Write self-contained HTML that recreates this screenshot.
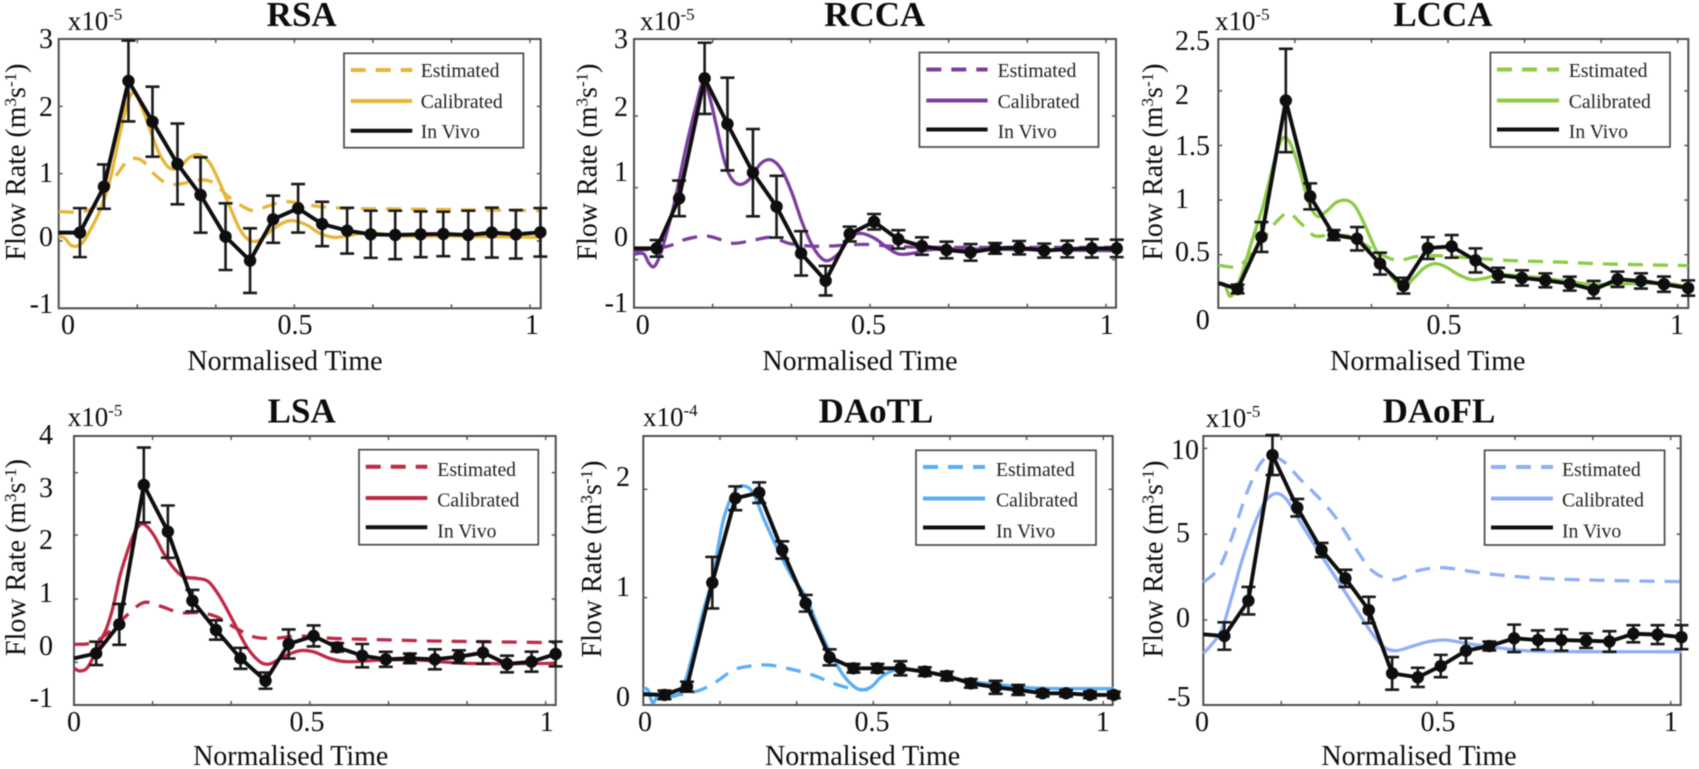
<!DOCTYPE html>
<html lang="en">
<head>
<meta charset="utf-8">
<title>Flow rate comparison</title>
<style>
html,body{margin:0;padding:0;background:#fff;}
svg{display:block;filter:blur(0.55px);}
text{font-family:"Liberation Serif",serif;fill:#0c0c0c;}
.title{font-size:35px;font-weight:bold;text-anchor:middle;}
.mult{font-size:27px;}
.tick{font-size:28px;text-anchor:middle;}
.ytick{font-size:28px;text-anchor:end;}
.ytitle{font-size:28px;text-anchor:middle;}
.xtitle{font-size:28px;text-anchor:middle;}
.leg{font-size:19.7px;fill:#222;}
.legbox{fill:#fff;stroke:#4a4a4a;stroke-width:1.7;}
.legline{stroke-width:4;fill:none;}
.dash{stroke-dasharray:15 10;}
.vivo{stroke:#111;}
</style>
</head>
<body>
<svg id="figure" xmlns="http://www.w3.org/2000/svg" width="1699" height="769" viewBox="0 0 1699 769">

<g id="panel-rsa">
  <text class="title" x="301.7" y="26">RSA</text>
  <text class="mult" x="67.7" y="30">x10<tspan font-size="17" dy="-10">-5</tspan></text>
  <text class="ytitle" transform="translate(25,162) rotate(-90)">Flow Rate (m<tspan font-size="17" dy="-9">3</tspan><tspan dy="9">s</tspan><tspan font-size="17" dy="-9">-1</tspan><tspan dy="9">)</tspan></text>
  <text class="xtitle" x="285" y="370">Normalised Time</text>
  <g><text class="tick" x="68" y="334">0</text><text class="tick" x="295" y="334">0.5</text><text class="tick" x="532" y="334">1</text></g>
  <g><text class="ytick" x="53" y="48">3</text><text class="ytick" x="53" y="116">2</text><text class="ytick" x="53" y="182">1</text><text class="ytick" x="53" y="246">0</text><text class="ytick" x="53" y="313">-1</text></g>
  <g id="marks-rsa"></g>
  <g>
    <rect class="legbox" x="344" y="53.3" width="179.4" height="94.4"/>
    <line class="legline dash" x1="350.7" x2="412.3" y1="70" y2="70" stroke="#E8B53A"/>
    <line class="legline" x1="350.7" x2="412.3" y1="101" y2="101" stroke="#E8B53A"/>
    <line class="legline vivo" x1="350.7" x2="412.3" y1="130.7" y2="130.7"/>
    <text class="leg" x="420.7" y="77">Estimated</text>
    <text class="leg" x="420.7" y="108">Calibrated</text>
    <text class="leg" x="420.7" y="138">In Vivo</text>
  </g>
</g>

<g id="panel-rcca">
  <text class="title" x="874.7" y="26">RCCA</text>
  <text class="mult" x="640" y="30">x10<tspan font-size="17" dy="-10">-5</tspan></text>
  <text class="ytitle" transform="translate(596.4,162) rotate(-90)">Flow Rate (m<tspan font-size="17" dy="-9">3</tspan><tspan dy="9">s</tspan><tspan font-size="17" dy="-9">-1</tspan><tspan dy="9">)</tspan></text>
  <text class="xtitle" x="860" y="370">Normalised Time</text>
  <g><text class="tick" x="642.7" y="334">0</text><text class="tick" x="868.5" y="334">0.5</text><text class="tick" x="1106.7" y="334">1</text></g>
  <g><text class="ytick" x="628" y="48">3</text><text class="ytick" x="628" y="116">2</text><text class="ytick" x="628" y="181">1</text><text class="ytick" x="628" y="246">0</text><text class="ytick" x="628" y="312">-1</text></g>
  <g id="marks-rcca"></g>
  <g>
    <rect class="legbox" x="919.4" y="52.5" width="179.1" height="94.5"/>
    <line class="legline dash" x1="926.3" x2="987.6" y1="69.5" y2="69.5" stroke="#7B3F9E"/>
    <line class="legline" x1="926.3" x2="987.6" y1="100.5" y2="100.5" stroke="#7B3F9E"/>
    <line class="legline vivo" x1="926.3" x2="987.6" y1="129.5" y2="129.5"/>
    <text class="leg" x="997.6" y="77">Estimated</text>
    <text class="leg" x="997.6" y="108">Calibrated</text>
    <text class="leg" x="997.6" y="138">In Vivo</text>
  </g>
</g>

<g id="panel-lcca">
  <text class="title" x="1443" y="26">LCCA</text>
  <text class="mult" x="1215" y="30">x10<tspan font-size="17" dy="-10">-5</tspan></text>
  <text class="ytitle" transform="translate(1162,162) rotate(-90)">Flow Rate (m<tspan font-size="17" dy="-9">3</tspan><tspan dy="9">s</tspan><tspan font-size="17" dy="-9">-1</tspan><tspan dy="9">)</tspan></text>
  <text class="xtitle" x="1427.8" y="370">Normalised Time</text>
  <g><text class="tick" x="1202.7" y="329">0</text><text class="tick" x="1444" y="334">0.5</text><text class="tick" x="1677" y="334">1</text></g>
  <g><text x="1175" y="50" font-size="28">2.5</text><text x="1175" y="104" font-size="28">2</text><text x="1175" y="155" font-size="28">1.5</text><text x="1175" y="208" font-size="28">1</text><text x="1175" y="261" font-size="28">0.5</text></g>
  <g id="marks-lcca"></g>
  <g>
    <rect class="legbox" x="1490.4" y="52.5" width="179.6" height="94.5"/>
    <line class="legline dash" x1="1497" x2="1559" y1="69.5" y2="69.5" stroke="#8CCB47"/>
    <line class="legline" x1="1497" x2="1559" y1="100.5" y2="100.5" stroke="#8CCB47"/>
    <line class="legline vivo" x1="1497" x2="1559" y1="129.5" y2="129.5"/>
    <text class="leg" x="1568.8" y="77">Estimated</text>
    <text class="leg" x="1568.8" y="108">Calibrated</text>
    <text class="leg" x="1568.8" y="138">In Vivo</text>
  </g>
</g>

<g id="panel-lsa">
  <text class="title" x="301.7" y="422.7">LSA</text>
  <text class="mult" x="67.7" y="426">x10<tspan font-size="17" dy="-10">-5</tspan></text>
  <text class="ytitle" transform="translate(25,557.5) rotate(-90)">Flow Rate (m<tspan font-size="17" dy="-9">3</tspan><tspan dy="9">s</tspan><tspan font-size="17" dy="-9">-1</tspan><tspan dy="9">)</tspan></text>
  <text class="xtitle" x="290.7" y="765">Normalised Time</text>
  <g><text class="tick" x="74" y="731">0</text><text class="tick" x="307" y="731">0.5</text><text class="tick" x="546.7" y="731">1</text></g>
  <g><text class="ytick" x="53" y="444">4</text><text class="ytick" x="53" y="497">3</text><text class="ytick" x="53" y="549">2</text><text class="ytick" x="53" y="602">1</text><text class="ytick" x="53" y="655">0</text><text class="ytick" x="53" y="707">-1</text></g>
  <g id="marks-lsa"></g>
  <g>
    <rect class="legbox" x="359" y="449.7" width="179.3" height="95"/>
    <line class="legline dash" x1="365.7" x2="427.3" y1="466.7" y2="466.7" stroke="#BE2A45"/>
    <line class="legline" x1="365.7" x2="427.3" y1="498" y2="498" stroke="#BE2A45"/>
    <line class="legline vivo" x1="365.7" x2="427.3" y1="527.3" y2="527.3"/>
    <text class="leg" x="437.3" y="476">Estimated</text>
    <text class="leg" x="437.3" y="506.7">Calibrated</text>
    <text class="leg" x="437.3" y="537.3">In Vivo</text>
  </g>
</g>

<g id="panel-daotl">
  <text class="title" x="876" y="422.7">DAoTL</text>
  <text class="mult" x="643" y="426">x10<tspan font-size="17" dy="-10">-4</tspan></text>
  <text class="ytitle" transform="translate(601,559) rotate(-90)">Flow Rate (m<tspan font-size="17" dy="-9">3</tspan><tspan dy="9">s</tspan><tspan font-size="17" dy="-9">-1</tspan><tspan dy="9">)</tspan></text>
  <text class="xtitle" x="862.6" y="765">Normalised Time</text>
  <g><text class="tick" x="645" y="731">0</text><text class="tick" x="872" y="731">0.5</text><text class="tick" x="1102.7" y="731">1</text></g>
  <g><text class="ytick" x="630" y="486">2</text><text class="ytick" x="630" y="596">1</text><text class="ytick" x="630" y="706">0</text></g>
  <g id="marks-daotl"></g>
  <g>
    <rect class="legbox" x="916" y="450.3" width="180" height="94.7"/>
    <line class="legline dash" x1="923" x2="985" y1="467" y2="467" stroke="#5AAEF5"/>
    <line class="legline" x1="923" x2="985" y1="498.5" y2="498.5" stroke="#5AAEF5"/>
    <line class="legline vivo" x1="923" x2="985" y1="527.5" y2="527.5"/>
    <text class="leg" x="996" y="476">Estimated</text>
    <text class="leg" x="996" y="506.7">Calibrated</text>
    <text class="leg" x="996" y="537.3">In Vivo</text>
  </g>
</g>

<g id="panel-daofl">
  <text class="title" x="1439" y="422.7">DAoFL</text>
  <text class="mult" x="1205.7" y="427">x10<tspan font-size="17" dy="-10">-5</tspan></text>
  <text class="ytitle" transform="translate(1162.3,559) rotate(-90)">Flow Rate (m<tspan font-size="17" dy="-9">3</tspan><tspan dy="9">s</tspan><tspan font-size="17" dy="-9">-1</tspan><tspan dy="9">)</tspan></text>
  <text class="xtitle" x="1419" y="765">Normalised Time</text>
  <g><text class="tick" x="1202" y="731">0</text><text class="tick" x="1438" y="731">0.5</text><text class="tick" x="1670.7" y="731">1</text></g>
  <g><text class="tick" x="1185" y="459">10</text><text class="tick" x="1183" y="542">5</text><text class="tick" x="1183" y="627">0</text><text class="tick" x="1179" y="706">-5</text></g>
  <g id="marks-daofl"></g>
  <g>
    <rect class="legbox" x="1484.6" y="450.3" width="180" height="94.7"/>
    <line class="legline dash" x1="1491" x2="1553" y1="467" y2="467" stroke="#8FAEF5"/>
    <line class="legline" x1="1491" x2="1553" y1="498.5" y2="498.5" stroke="#8FAEF5"/>
    <line class="legline vivo" x1="1491" x2="1553" y1="527.5" y2="527.5"/>
    <text class="leg" x="1562" y="476">Estimated</text>
    <text class="leg" x="1562" y="506.7">Calibrated</text>
    <text class="leg" x="1562" y="537.3">In Vivo</text>
  </g>
</g>
</svg>

<script>
/* ---------- shared ---------- */
const xTickValues = [0.1667,0.3333,0.5,0.6667,0.8333,1];

/* ---------- RSA ---------- */
const rsaVivoTime = [.045,.096,.148,.199,.252,.301,.354,.406,.455,.508,.559,.612,.662,.714,.768,.816,.869,.919,.970,1.022];
const rsaVivoFlow = [.124,.807,2.376,1.772,1.144,.683,.064,-.292,.322,.485,.252,.153,.099,.089,.099,.104,.089,.124,.099,.129];
const rsaVivoErr = [.364,.33,.6,.52,.6,.56,.495,.48,.35,.36,.33,.34,.35,.36,.34,.33,.36,.37,.36,.36];
const rsaVivoStart = [.124];
const rsaCalTime = [0,.013,.028,.049,.067,.088,.109,.13,.148,.16,.173,.194,.215,.236,.257,.278,.3,.321,.342,.363,.385,.406,.427,.448,.477,.498,.526,.554,.583,.611,.653,.724,.83,1.022];
const rsaCalFlow = [.074,.04,-.074,-.035,.163,.46,.906,1.6,2.094,2.203,2.045,1.649,1.277,1.079,1.104,1.243,1.277,1.153,.856,.51,.163,.005,.015,.139,.272,.302,.238,.114,.054,.074,.124,.074,.074,.054];
const rsaEstTime = [0,.052,.081,.102,.123,.144,.162,.18,.201,.229,.257,.3,.328,.356,.385,.413,.441,.477,.512,.554,.611,.724,1.022];
const rsaEstFlow = [.436,.436,.535,.782,.98,1.178,1.228,1.178,1.005,.856,.847,.906,.866,.683,.535,.45,.51,.584,.559,.51,.485,.475,.45];
const rsaYTicks = [2,1,0];

/* ---------- RCCA ---------- */
const rccaVivoTime = [.048,.0956,.1496,.198,.252,.302,.354,.406,.457,.5085,.56,.61,.662,.713,.765,.816,.869,.918,.97,1.0228];
const rccaVivoFlow = [-.117,.628,2.414,1.734,1.01,.504,-.191,-.598,.097,.28,.017,-.082,-.141,-.176,-.117,-.107,-.151,-.127,-.117,-.117];
const rccaVivoErr = [.124,.265,.53,.69,.65,.46,.33,.22,.11,.115,.137,.13,.124,.124,.08,.1,.105,.124,.137,.13];
const rccaVivoStart = [-.117];
const rccaCalTime = [0,.021,.032,.042,.054,.069,.087,.109,.131,.147,.16,.175,.189,.204,.222,.243,.269,.291,.313,.335,.357,.379,.4,.415,.437,.459,.481,.51,.539,.561,.59,.634,.78,1.023];
const rccaCalFlow = [-.201,-.201,-.34,-.39,-.241,.107,.603,1.347,1.993,2.365,2.141,1.695,1.248,.95,.836,.901,1.149,1.199,1.05,.702,.256,-.092,-.28,-.29,-.166,.057,.107,.032,-.117,-.201,-.191,-.132,-.132,-.151];
const rccaEstTime = [0,.05,.08,.109,.153,.182,.211,.254,.291,.328,.371,.415,.488,.561,.707,1.023];
const rccaEstFlow = [-.151,-.117,-.067,.017,.067,.017,-.042,.007,.047,-.042,-.082,-.082,-.057,-.092,-.102,-.102];
const rccaYTicks = [1.854,.787,-.285];

/* ---------- LCCA ---------- */
const lccaVivoTime = [.042,.094,.147,.2,.251,.302,.352,.403,.456,.508,.56,.609,.661,.712,.765,.817,.869,.92,.97,1.0228];
const lccaVivoFlow = [.186,.662,1.912,1.034,.68,.646,.418,.216,.561,.576,.448,.314,.287,.265,.235,.18,.275,.26,.23,.195];
const lccaVivoErr = [.04,.137,.473,.119,.046,.107,.1,.072,.1,.104,.11,.066,.07,.064,.064,.08,.07,.07,.07,.07];
const lccaVivoStart = [.241];
const lccaCalTime = [0,.014,.025,.037,.052,.074,.097,.119,.134,.145,.16,.179,.197,.216,.235,.257,.28,.298,.317,.336,.354,.377,.403,.426,.448,.471,.493,.523,.553,.583,.613,.703,.777,.82,.97,1.02];
const lccaCalFlow = [.241,.226,.119,.18,.332,.637,.942,1.308,1.521,1.576,1.491,1.247,.973,.851,.896,.979,.997,.942,.79,.607,.454,.302,.204,.287,.378,.418,.393,.317,.271,.287,.317,.287,.247,.226,.24,.21];
const lccaEstTime = [0,.044,.067,.097,.127,.153,.179,.209,.246,.291,.343,.388,.433,.478,.553,.628,.74,.822,1.0228];
const lccaEstFlow = [.402,.393,.485,.637,.805,.881,.79,.674,.683,.662,.53,.448,.485,.491,.47,.448,.433,.418,.40];
const lccaYTicks = [.5,1,1.5,2];

/* ---------- LSA ---------- */
const lsaVivoTime = [.047,.096,.148,.199,.251,.301,.353,.406,.455,.508,.558,.611,.661,.712,.765,.816,.867,.918,.97,1.021];
const lsaVivoFlow = [-.04,.499,3.089,2.222,.939,.394,-.133,-.548,.134,.283,.072,-.083,-.151,-.133,-.151,-.102,-.027,-.238,-.195,-.052];
const lsaVivoErr = [.217,.38,.697,.486,.2,.18,.195,.15,.27,.195,.08,.217,.14,.09,.186,.118,.207,.155,.186,.23];
const lsaVivoStart = [-.133];
const lsaCalTime = [0,.013,.03,.055,.069,.083,.097,.112,.126,.136,.148,.169,.19,.212,.232,.26,.285,.309,.338,.366,.394,.415,.444,.479,.507,.542,.578,.655,.726,.832,1.021];
const lsaCalFlow = [-.318,-.368,-.287,.177,.425,.828,1.385,1.819,2.16,2.315,2.364,2.16,1.819,1.54,1.385,1.354,1.292,1.014,.549,.084,-.195,-.238,-.102,.01,-.009,-.133,-.195,-.164,-.164,-.226,-.226];
const lsaEstTime = [0,.034,.062,.105,.147,.182,.225,.267,.302,.338,.38,.422,.479,.549,.62,.761,1.021];
const lsaEstFlow = [.128,.146,.27,.611,.902,.84,.716,.716,.642,.456,.27,.239,.283,.239,.221,.19,.159];
const lsaYTicks = [3.318,2.16,.97,-.207];

/* ---------- DAoTL ---------- */
const daotlVivoTime = [.046,.095,.15,.2,.252,.302,.353,.405,.457,.509,.559,.612,.66,.712,.766,.815,.868,.919,.971,1.023];
const daotlVivoFlow = [.102,.178,1.138,1.917,1.969,1.44,.948,.449,.348,.348,.348,.317,.277,.209,.172,.148,.117,.117,.102,.102];
const daotlVivoErr = [.04,.046,.238,.11,.095,.08,.077,.074,.04,.04,.065,.04,.04,.04,.06,.046,.03,.03,.03,.03];
const daotlVivoStart = [.108];
const daotlCalTime = [0,.01,.02,.031,.061,.084,.106,.129,.151,.174,.196,.214,.237,.263,.293,.323,.353,.383,.409,.432,.454,.473,.496,.518,.548,.593,.66,.713,.78,.855,1.023];
const daotlCalFlow = [.163,.148,.031,.086,.086,.148,.455,.855,1.194,1.717,1.963,2.031,1.978,1.717,1.44,1.194,1.009,.702,.471,.302,.194,.148,.178,.271,.332,.332,.271,.225,.194,.165,.16];
const daotlEstTime = [0,.069,.121,.159,.196,.233,.271,.323,.368,.413,.451,.488];
const daotlEstFlow = [.117,.102,.142,.225,.332,.369,.378,.338,.286,.209,.163,.148];
const daotlYTicks = [1,2];

/* ---------- DAoFL ---------- */
const daoflVivoTime = [.045,.0965,.148,.201,.253,.304,.354,.404,.459,.508,.562,.612,.665,.716,.766,.819,.869,.92,.972,1.023];
const daoflVivoFlow = [-.932,1.126,9.612,6.544,4.078,2.427,.583,-3.107,-3.34,-2.68,-1.786,-1.515,-1.068,-1.165,-1.165,-1.204,-1.25,-.8,-.85,-1.0];
const daoflVivoErr = [.8,.8,1.165,.51,.41,.5,.77,.95,.56,.65,.73,.26,.8,.56,.62,.42,.6,.5,.55,.7];
const daoflVivoStart = [-.835];
const daoflCalTime = [0,.017,.039,.061,.083,.113,.135,.157,.179,.209,.245,.282,.319,.356,.385,.411,.444,.481,.518,.562,.614,.687,.798,1.023];
const daoflCalFlow = [-1.942,-1.456,-.583,1.359,3.495,5.825,6.99,7.379,6.99,5.631,4.078,2.524,.971,-.583,-1.553,-1.786,-1.553,-1.262,-1.165,-1.359,-1.553,-1.786,-1.845,-1.845];
const daoflEstTime = [0,.024,.039,.063,.079,.094,.12,.142,.172,.209,.245,.282,.319,.356,.385,.415,.459,.511,.562,.621,.724,.828,1.023];
const daoflEstFlow = [2.194,2.72,3.3,4.95,6.3,7.47,9.029,9.553,9.223,8.155,7.184,6.019,4.466,3.01,2.485,2.369,2.874,3.049,2.874,2.66,2.427,2.33,2.233];
const daoflYTicks = [10,5,0];

const SVGNS = 'http://www.w3.org/2000/svg';

function make(tag, attrs, parent) {
  const el = document.createElementNS(SVGNS, tag);
  for (const k in attrs) el.setAttribute(k, attrs[k]);
  parent.appendChild(el);
  return el;
}

function smoothPath(xs, ys) {
  const n = xs.length;
  const slope = [];
  for (let i = 0; i < n; i++) {
    const a = Math.max(0, i - 1), b = Math.min(n - 1, i + 1);
    slope.push((ys[b] - ys[a]) / (xs[b] - xs[a]));
  }
  let d = 'M' + xs[0].toFixed(2) + ' ' + ys[0].toFixed(2);
  for (let i = 0; i < n - 1; i++) {
    const h = (xs[i + 1] - xs[i]) / 3;
    d += 'C' + (xs[i] + h).toFixed(2) + ' ' + (ys[i] + slope[i] * h).toFixed(2) + ' ' +
         (xs[i + 1] - h).toFixed(2) + ' ' + (ys[i + 1] - slope[i + 1] * h).toFixed(2) + ' ' +
         xs[i + 1].toFixed(2) + ' ' + ys[i + 1].toFixed(2);
  }
  return d;
}

function drawPanel(p) {
  const root = document.getElementById(p.id);
  const xAxis = t => p.left + t * (p.xOne - p.left);
  const yAxis = v => p.bottom - (v - p.yMin) / (p.yMax - p.yMin) * (p.bottom - p.top);
  const tickStyle = {stroke:'#555', 'stroke-width':1.5};

  const frame = make('rect', {x:p.left, y:p.top, width:p.right - p.left, height:p.bottom - p.top, fill:'none', stroke:'#4f4f4f', 'stroke-width':2}, root);
  
  

  xTickValues.forEach(t => {
    const x = xAxis(t);
    const low = make('line', Object.assign({x1:x, x2:x, y1:p.bottom, y2:p.bottom - 4}, tickStyle), root);
    
    
    const high = make('line', Object.assign({x1:x, x2:x, y1:p.top, y2:p.top + 4}, tickStyle), root);
    
    
  });
  p.yTicks.forEach(v => {
    const y = yAxis(v);
    const leftTick = make('line', Object.assign({x1:p.left, x2:p.left + 4, y1:y, y2:y}, tickStyle), root);
    
    
    const rightTick = make('line', Object.assign({x1:p.right, x2:p.right - 4, y1:y, y2:y}, tickStyle), root);
    
    
  });

  const est = make('path', {d:smoothPath(p.estTime.map(xAxis), p.estFlow.map(yAxis)), fill:'none', stroke:p.color, 'stroke-width':3.3, 'stroke-dasharray':'15 10'}, root);
  
  

  const cal = make('path', {d:smoothPath(p.calTime.map(xAxis), p.calFlow.map(yAxis)), fill:'none', stroke:p.color, 'stroke-width':3.3}, root);
  
  

  p.vivoTime.forEach((t, i) => {
    const x = xAxis(t), up = yAxis(p.vivoFlow[i] + p.vivoErr[i]), dn = yAxis(p.vivoFlow[i] - p.vivoErr[i]);
    const bar = make('path', {d:'M' + (x - 7) + ' ' + up + 'H' + (x + 7) + 'M' + x + ' ' + up + 'V' + dn + 'M' + (x - 7) + ' ' + dn + 'H' + (x + 7), fill:'none', stroke:'#1a1a1a', 'stroke-width':2.6}, root);
    
    
  });

  const pts = [xAxis(0) + ',' + yAxis(p.vivoStart[0])].concat(p.vivoTime.map((t, i) => xAxis(t) + ',' + yAxis(p.vivoFlow[i])));
  const vivo = make('polyline', {points:pts.join(' '), fill:'none', stroke:'#0e0e0e', 'stroke-width':3.9, 'stroke-linejoin':'round'}, root);
  
  

  p.vivoTime.forEach((t, i) => {
    const dot = make('circle', {cx:xAxis(t), cy:yAxis(p.vivoFlow[i]), r:6.2, fill:'#0e0e0e'}, root);
    
    
  });
}

drawPanel({id:'marks-rsa', color:'#E8B53A', left:58.7, right:540.7, top:39, bottom:308.3, xOne:530, yMin:-1, yMax:3,
  yTicks:rsaYTicks, vivoTime:rsaVivoTime, vivoFlow:rsaVivoFlow, vivoErr:rsaVivoErr, vivoStart:rsaVivoStart,
  calTime:rsaCalTime, calFlow:rsaCalFlow, estTime:rsaEstTime, estFlow:rsaEstFlow});
drawPanel({id:'marks-rcca', color:'#7B3F9E', left:634, right:1116, top:39, bottom:307.7, xOne:1106, yMin:-1, yMax:3,
  yTicks:rccaYTicks, vivoTime:rccaVivoTime, vivoFlow:rccaVivoFlow, vivoErr:rccaVivoErr, vivoStart:rccaVivoStart,
  calTime:rccaCalTime, calFlow:rccaCalFlow, estTime:rccaEstTime, estFlow:rccaEstFlow});
drawPanel({id:'marks-lcca', color:'#8CCB47', left:1218.3, right:1688.3, top:39, bottom:308, xOne:1677.7, yMin:.012, yMax:2.475,
  yTicks:lccaYTicks, vivoTime:lccaVivoTime, vivoFlow:lccaVivoFlow, vivoErr:lccaVivoErr, vivoStart:lccaVivoStart,
  calTime:lccaCalTime, calFlow:lccaCalFlow, estTime:lccaEstTime, estFlow:lccaEstFlow});
drawPanel({id:'marks-lsa', color:'#BE2A45', left:74, right:555.7, top:436, bottom:705, xOne:545.7, yMin:-1, yMax:4,
  yTicks:lsaYTicks, vivoTime:lsaVivoTime, vivoFlow:lsaVivoFlow, vivoErr:lsaVivoErr, vivoStart:lsaVivoStart,
  calTime:lsaCalTime, calFlow:lsaCalFlow, estTime:lsaEstTime, estFlow:lsaEstFlow});
drawPanel({id:'marks-daotl', color:'#5AAEF5', left:643.3, right:1112.7, top:436, bottom:705, xOne:1103.3, yMin:.009, yMax:2.492,
  yTicks:daotlYTicks, vivoTime:daotlVivoTime, vivoFlow:daotlVivoFlow, vivoErr:daotlVivoErr, vivoStart:daotlVivoStart,
  calTime:daotlCalTime, calFlow:daotlCalFlow, estTime:daotlEstTime, estFlow:daotlEstFlow});
drawPanel({id:'marks-daofl', color:'#8FAEF5', left:1203.3, right:1680.7, top:436, bottom:705, xOne:1670.7, yMin:-4.95, yMax:10.72,
  yTicks:daoflYTicks, vivoTime:daoflVivoTime, vivoFlow:daoflVivoFlow, vivoErr:daoflVivoErr, vivoStart:daoflVivoStart,
  calTime:daoflCalTime, calFlow:daoflCalFlow, estTime:daoflEstTime, estFlow:daoflEstFlow});
</script>
</body>
</html>
